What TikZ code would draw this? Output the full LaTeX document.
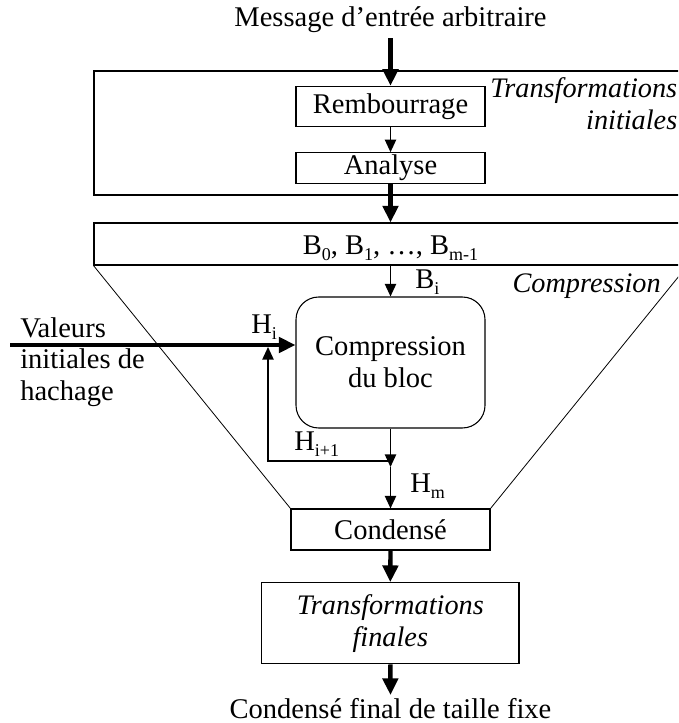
\documentclass[tikz,border=0pt]{standalone}
\usepackage{fontspec}
\setmainfont{Liberation Serif}
\usetikzlibrary{arrows.meta}
\newcommand\sbt[1]{\raisebox{-4.5pt}{\fontsize{13.5pt}{13.5pt}\selectfont #1}}
\begin{document}
\begin{tikzpicture}[x=0.75pt,y=-0.75pt,
  every node/.style={font=\fontsize{21.4pt}{24pt}\selectfont, inner sep=0pt},
  wh/.style n args={2}{minimum width=#1*0.75pt, minimum height=#2*0.75pt},
  boxst/.style={draw, line width=0.8pt},
  bigarrow/.style={line width=3.3pt, -{Triangle[length=12.5pt,width=11.5pt]}},
  smallarrow/.style={line width=1.1pt, -{Triangle[length=9.5pt,width=8.5pt]}},
  thinline/.style={line width=0.6pt},
  lbl/.style={anchor=base west},
  itl/.style={font=\fontsize{21.2pt}{24pt}\selectfont\itshape}
]
\useasboundingbox (0,0) rectangle (678,723);
\clip (0,0) rectangle (678,723);

% title
\node[anchor=base] (title) at (390.5,26.5) {Message d’entrée arbitraire};

% initial transformations frame
\node[boxst, wh={593}{124}] (topbox) at (390.5,133) {};
\node[boxst, wh={189}{40}] (remb) at (390.5,106.3) {Rembourrage};
\node[boxst, wh={189}{30.5}] (anal) at (390.5,168) {Analyse};
\node[itl, anchor=base east] (ti1) at (677.5,98) {Transformations};
\node[itl, anchor=base east] (ti2) at (677.5,130) {initiales};

% blocks
\node[boxst, wh={593}{42}] (blocks) at (390.5,244) {};
\node[anchor=base] (blist) at (390.5,255) {B\sbt{0}, B\sbt{1}, …, B\sbt{m-1}};

% compression
\node[itl, anchor=base east] (ctitle) at (661,292) {Compression};
\node[draw, line width=0.8pt, rounded corners=17pt, wh={189}{131}, align=center] (comp) at (390.5,362.5) {Compression\\du bloc};

% condensed
\node[boxst, wh={199}{41}] (cond) at (390.5,529.5) {Condensé};
\node[boxst, wh={257.4}{81.3}, align=center, itl] (fin) at (390.3,623.3) {Transformations\\finales};
\node[anchor=base] (out) at (390.5,718) {Condensé final de taille fixe};

% trapezoid
\draw[thinline] (blocks.south west) -- (cond.north west);
\draw[thinline] (blocks.south east) -- (cond.north east);

% input values
\node[lbl] (v1) at (20,337) {Valeurs};
\node[lbl] (v2) at (20,368) {initiales de};
\node[lbl] (v3) at (20,400) {hachage};
\coordinate (in) at (10,345);
\draw[bigarrow] (in) -- (in -| comp.west);
\node[lbl] (hi) at (251,333) {H\sbt{i}};

% arrows along the main axis
\draw[bigarrow, shorten <=4pt] (title.south) -- (remb.north);
\draw[smallarrow] (remb.south) -- (anal.north);
\draw[bigarrow] (anal.south) -- (blocks.north);
\draw[smallarrow] (blocks.south) -- (comp.north);
\node[lbl] (bi) at (415,288) {B\sbt{i}};

\coordinate (j) at (390.5,467);
\draw[smallarrow] (comp.south) -- (j);
\coordinate (fbs) at (390.5,461);
\coordinate (fbc) at (268,461);
\coordinate (fbe) at (268,347);
\draw[smallarrow] (fbs) -- (fbc) -- (fbe);
\node[lbl] (hi1) at (294,450) {H\sbt{i+1}};

\draw[smallarrow] (j) -- (cond.north);
\node[lbl] (hm) at (410,492) {H\sbt{m}};

\draw[bigarrow] (cond.south) -- (fin.north);
\draw[bigarrow, shorten >=2pt] (fin.south) -- (out.north);
\end{tikzpicture}
\end{document}
